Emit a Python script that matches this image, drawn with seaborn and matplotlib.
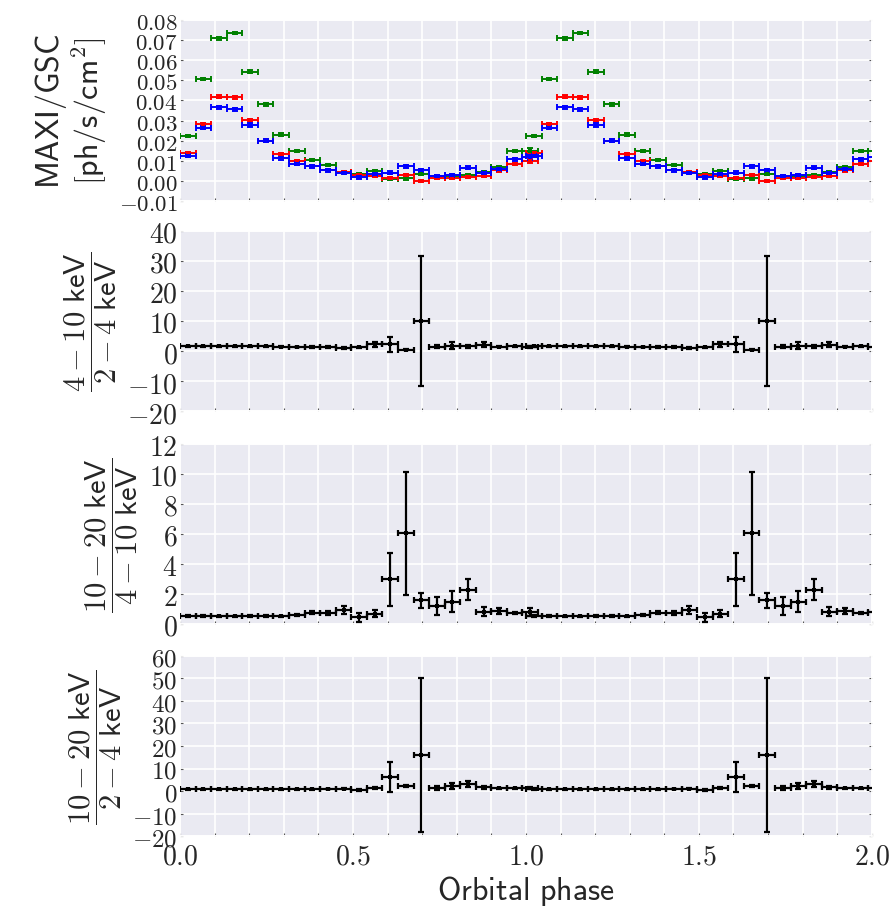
import numpy as np
import pandas as pd
import matplotlib
matplotlib.use("Agg")
import matplotlib.pyplot as plt
from matplotlib.ticker import MultipleLocator, FuncFormatter
import seaborn as sns

# Phase bins (width 0.045) of one folded orbit; the orbit is drawn twice.
phase = [0.0225, 0.0675, 0.1125, 0.1575, 0.2025, 0.2475, 0.2925, 0.3375,
         0.3825, 0.4275, 0.4725, 0.5175, 0.5625, 0.6075, 0.6525, 0.6975,
         0.7425, 0.7875, 0.8325, 0.8775, 0.9225, 0.9675, 1.0125]
half_width = 0.0225

# MAXI/GSC rates [ph/s/cm^2]
rate_2_4 = [0.0138, 0.0282, 0.0418, 0.0415, 0.0302, 0.0200, 0.0132, 0.0098,
            0.0075, 0.0052, 0.0042, 0.0028, 0.0022, 0.0012, 0.0030, 0.0000,
            0.0015, 0.0015, 0.0020, 0.0022, 0.0052, 0.0083, 0.0100]
rate_2_4_err = [0.0006, 0.0007, 0.0007, 0.0007, 0.0007, 0.0006, 0.0006, 0.0006,
                0.0005, 0.0005, 0.0005, 0.0005, 0.0005, 0.0005, 0.0005, 0.0005,
                0.0005, 0.0005, 0.0005, 0.0005, 0.0006, 0.0006, 0.0010]
rate_4_10 = [0.0222, 0.0508, 0.0708, 0.0735, 0.0542, 0.0380, 0.0230, 0.0150,
             0.0105, 0.0078, 0.0042, 0.0035, 0.0048, 0.0008, 0.0012, 0.0035,
             0.0022, 0.0022, 0.0028, 0.0042, 0.0070, 0.0150, 0.0148]
rate_4_10_err = [0.0006, 0.0006, 0.0007, 0.0007, 0.0007, 0.0006, 0.0006, 0.0006,
                 0.0006, 0.0006, 0.0005, 0.0005, 0.0006, 0.0006, 0.0006, 0.0006,
                 0.0005, 0.0005, 0.0005, 0.0005, 0.0006, 0.0006, 0.0014]
rate_10_20 = [0.0125, 0.0265, 0.0365, 0.0355, 0.0278, 0.0200, 0.0112, 0.0085,
              0.0073, 0.0052, 0.0038, 0.0018, 0.0032, 0.0040, 0.0072, 0.0052,
              0.0025, 0.0028, 0.0065, 0.0040, 0.0058, 0.0108, 0.0118]
rate_10_20_err = [0.0007, 0.0008, 0.0008, 0.0008, 0.0008, 0.0007, 0.0007, 0.0007,
                  0.0007, 0.0007, 0.0006, 0.0007, 0.0007, 0.0007, 0.0008, 0.0008,
                  0.0006, 0.0007, 0.0008, 0.0007, 0.0007, 0.0008, 0.0012]

# Hardness ratios
hr_4_10_over_2_4 = [1.55, 1.55, 1.55, 1.55, 1.65, 1.55, 1.45, 1.35, 1.35, 1.35,
                    1.10, 1.20, 2.20, 2.20, 0.45, 10.0, 1.45, 1.80, 1.55, 2.10,
                    1.45, 1.55, 1.45]
hr_4_10_over_2_4_err = [0.15, 0.15, 0.15, 0.15, 0.15, 0.15, 0.15, 0.15, 0.2, 0.2,
                        0.3, 0.3, 0.8, 2.5, 0.2, 21.7, 0.6, 1.2, 0.6, 0.9,
                        0.25, 0.25, 0.3]
hr_10_20_over_4_10 = [0.53, 0.51, 0.49, 0.49, 0.51, 0.51, 0.49, 0.56, 0.73, 0.73,
                      0.91, 0.44, 0.67, 2.98, 6.04, 1.58, 1.18, 1.47, 2.27, 0.80,
                      0.82, 0.73, 0.78]
hr_10_20_over_4_10_err = [0.05, 0.05, 0.05, 0.05, 0.05, 0.05, 0.05, 0.07, 0.1, 0.15,
                          0.27, 0.3, 0.25, 1.77, 4.1, 0.5, 0.62, 0.72, 0.71, 0.3,
                          0.2, 0.08, 0.25]
hr_10_20_over_2_4 = [0.74, 0.74, 0.74, 0.74, 0.74, 0.74, 0.74, 0.74, 0.80, 0.90,
                     1.00, 0.45, 1.30, 6.40, 2.10, 15.9, 1.50, 2.20, 3.30, 1.60,
                     1.20, 1.20, 1.20]
hr_10_20_over_2_4_err = [0.1, 0.1, 0.1, 0.1, 0.1, 0.1, 0.1, 0.1, 0.15, 0.2,
                         0.3, 0.3, 0.5, 6.7, 0.5, 34.2, 0.9, 1.5, 1.3, 0.6,
                         0.3, 0.3, 0.4]

cycles = [0, 1]

sns.set_theme(style="darkgrid")
plt.rcParams["mathtext.fontset"] = "cm"
plt.rcParams["font.family"] = ["DejaVu Sans"]

fig = plt.figure(figsize=(8.96, 9.12), dpi=100)
left, width = 0.201, 0.772
boxes = [(0.7785, 0.1985), (0.548, 0.198), (0.315, 0.197), (0.082, 0.198)]
axes = [fig.add_axes([left, b, width, h]) for b, h in boxes]


def fold(values):
    """Repeat one orbit's values for the two plotted cycles."""
    rows = []
    for c in cycles:
        for p, v in zip(phase, values):
            rows.append((p + c, v))
    return pd.DataFrame(rows, columns=["phase", "value"])


def draw(ax, values, errors, color, lw=1.4):
    data = fold(values)
    err = np.tile(errors, len(cycles))
    ax.errorbar(data["phase"], data["value"], xerr=half_width, yerr=err,
                fmt="none", ecolor=color, elinewidth=lw, capsize=2.5,
                capthick=lw, zorder=3)
    sns.scatterplot(data=data, x="phase", y="value", ax=ax, color=color,
                    marker="s", s=8, linewidth=0, zorder=4, legend=False)


# Light curves
for vals, errs, col in [(rate_4_10, rate_4_10_err, "#008000"),
                        (rate_2_4, rate_2_4_err, "#ff0000"),
                        (rate_10_20, rate_10_20_err, "#0000ff")]:
    draw(axes[0], vals, errs, col)

draw(axes[1], hr_4_10_over_2_4, hr_4_10_over_2_4_err, "black", lw=1.6)
draw(axes[2], hr_10_20_over_4_10, hr_10_20_over_4_10_err, "black", lw=1.6)
draw(axes[3], hr_10_20_over_2_4, hr_10_20_over_2_4_err, "black", lw=1.6)

ylims = [(-0.01, 0.08), (-20, 40), (0, 12), (-20, 60)]
ysteps = [0.01, 10, 2, 10]
yfmts = [lambda v, p: f"${v:.2f}$", lambda v, p: f"${v:.0f}$",
         lambda v, p: f"${v:.0f}$", lambda v, p: f"${v:.0f}$"]
ylabels = [r"$\mathsf{MAXI/GSC}$" + "\n" + r"$\mathsf{[ph/s/cm^2]}$",
           r"$\dfrac{\mathsf{4-10\ keV}}{\mathsf{2-4\ keV}}$",
           r"$\dfrac{\mathsf{10-20\ keV}}{\mathsf{4-10\ keV}}$",
           r"$\dfrac{\mathsf{10-20\ keV}}{\mathsf{2-4\ keV}}$"]
tick_sizes = [16.5, 20, 20, 18]

for i, ax in enumerate(axes):
    ax.set_xlim(0, 2)
    ax.set_ylim(*ylims[i])
    ax.xaxis.set_major_locator(MultipleLocator(0.5))
    ax.xaxis.set_minor_locator(MultipleLocator(0.1))
    ax.yaxis.set_major_locator(MultipleLocator(ysteps[i]))
    ax.yaxis.set_major_formatter(FuncFormatter(yfmts[i]))
    ax.xaxis.set_major_formatter(FuncFormatter(lambda v, p: f"${v:.1f}$"))
    ax.grid(True, which="both", color="white", linewidth=1.2)
    ax.tick_params(axis="both", which="both", direction="in", length=2,
                   width=0.8, color="#555555", labelsize=tick_sizes[i], pad=2,
                   right=True, left=True, bottom=True)
    ax.tick_params(axis="x", labelsize=20, pad=4)
    ax.set_xlabel("")
    ax.set_ylabel(ylabels[i], fontsize=23 if i == 0 else 22, labelpad=6,
                  linespacing=1.05)
    if i < 3:
        ax.tick_params(labelbottom=False)

axes[3].set_xlabel(r"$\mathsf{Orbital\ phase}$", fontsize=23, labelpad=2)

fig.savefig("out.png", dpi=100)
